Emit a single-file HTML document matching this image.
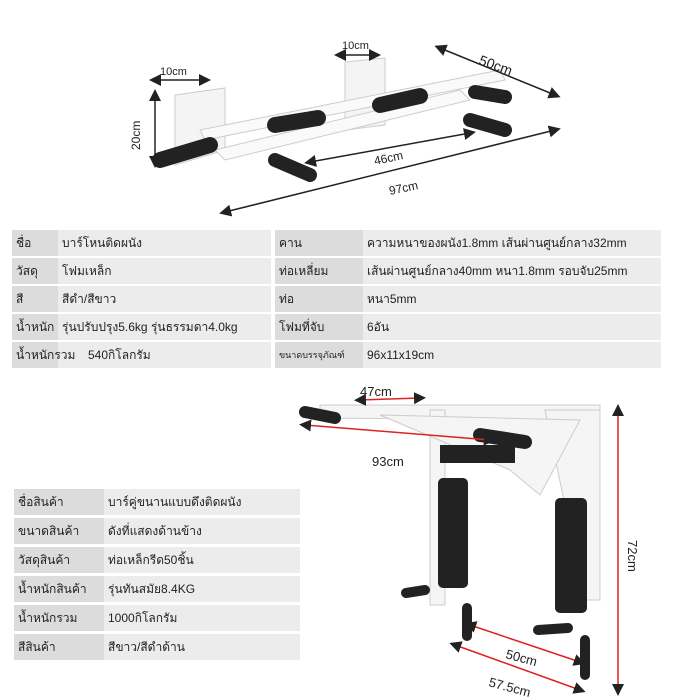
<!DOCTYPE html>
<html><head><meta charset="utf-8"><style>
body{margin:0;width:676px;height:697px;background:#fff;position:relative;overflow:hidden;font-family:"Liberation Sans","Noto Sans CJK SC",sans-serif;}
.t{position:absolute;border-collapse:separate;border-spacing:0 2px;font-size:12px;color:#222;table-layout:fixed}
.t td{height:26px;padding:0 4px;background:#ececec;white-space:nowrap;overflow:visible}
.t td.l{background:#dcdcdc}
svg{position:absolute;left:0;top:0}
</style></head><body>
<svg width="676" height="697" viewBox="0 0 676 697">
<defs><marker id="a" markerWidth="8" markerHeight="8" refX="4" refY="4" orient="auto-start-reverse"><path d="M0,0L8,4L0,8z" fill="#222"/></marker></defs>
<g stroke="#ccc" stroke-width="1">
<polygon points="175,95 225,88 225,150 175,165" fill="#f4f4f4"/>
<polygon points="345,62 385,58 385,125 345,130" fill="#f4f4f4"/>
<polygon points="215,150 460,90 470,100 225,160" fill="#fafafa"/>
<polygon points="200,130 500,70 505,80 205,140" fill="#fafafa"/>
</g>
<g stroke-linecap="round">
<line x1="160" y1="160" x2="210" y2="145" stroke="#222" stroke-width="16"/>
<line x1="275" y1="160" x2="310" y2="175" stroke="#222" stroke-width="14"/>
<line x1="275" y1="125" x2="318" y2="118" stroke="#222" stroke-width="16"/>
<line x1="380" y1="105" x2="420" y2="96" stroke="#222" stroke-width="16"/>
<line x1="470" y1="120" x2="505" y2="130" stroke="#222" stroke-width="14"/>
<line x1="475" y1="92" x2="505" y2="97" stroke="#222" stroke-width="14"/>
</g>
<g stroke="#222" stroke-width="1.5" fill="none">
<line x1="155" y1="95" x2="155" y2="162" marker-start="url(#a)" marker-end="url(#a)"/>
<line x1="155" y1="80" x2="205" y2="80" marker-start="url(#a)" marker-end="url(#a)"/>
<line x1="340" y1="55" x2="375" y2="55" marker-start="url(#a)" marker-end="url(#a)"/>
<line x1="440" y1="48" x2="555" y2="95" marker-start="url(#a)" marker-end="url(#a)"/>
<line x1="310" y1="162" x2="470" y2="133" marker-start="url(#a)" marker-end="url(#a)"/>
<line x1="225" y1="212" x2="555" y2="130" marker-start="url(#a)" marker-end="url(#a)"/>
</g>
<g font-family="Liberation Sans,sans-serif" fill="#222">
<text x="160" y="75" font-size="11">10cm</text>
<text x="342" y="49" font-size="11">10cm</text>
<text x="478" y="64" font-size="14" transform="rotate(20 478 64)">50cm</text>
<text x="140" y="150" font-size="12" transform="rotate(-90 140 150)">20cm</text>
<text x="375" y="165" font-size="12" transform="rotate(-12 375 165)">46cm</text>
<text x="390" y="195" font-size="12" transform="rotate(-12 390 195)">97cm</text>
</g>
<g stroke="#ccc" fill="#f5f5f5">
<polygon points="320,405 600,405 600,420 320,418"/>
<polygon points="430,410 445,410 445,605 430,605"/>
<polygon points="545,410 600,410 600,600 585,600"/>
<polygon points="380,415 580,420 540,495 510,470"/>
</g>
<rect x="438" y="478" width="30" height="110" rx="5" fill="#222"/>
<rect x="555" y="498" width="32" height="115" rx="5" fill="#222"/>
<rect x="440" y="445" width="75" height="18" fill="#222"/>
<g stroke-linecap="round" stroke="#222">
<line x1="305" y1="412" x2="335" y2="418" stroke-width="12"/>
<line x1="480" y1="435" x2="525" y2="442" stroke-width="14"/>
<line x1="406" y1="593" x2="425" y2="590" stroke-width="10"/>
<line x1="538" y1="630" x2="568" y2="628" stroke-width="10"/>
<line x1="467" y1="608" x2="467" y2="636" stroke-width="10"/>
<line x1="585" y1="640" x2="585" y2="675" stroke-width="10"/>
</g>
<g stroke="#d22" stroke-width="1.5" fill="none">
<line x1="360" y1="400" x2="420" y2="398" marker-start="url(#a)" marker-end="url(#a)"/>
<line x1="305" y1="425" x2="490" y2="440" marker-start="url(#a)" marker-end="url(#a)"/>
<line x1="618" y1="410" x2="618" y2="690" marker-start="url(#a)" marker-end="url(#a)"/>
<line x1="470" y1="625" x2="580" y2="662" marker-start="url(#a)" marker-end="url(#a)"/>
<line x1="455" y1="645" x2="580" y2="690" marker-start="url(#a)" marker-end="url(#a)"/>
</g>
<g font-family="Liberation Sans,sans-serif" fill="#222" font-size="13">
<text x="360" y="396">47cm</text>
<text x="372" y="466">93cm</text>
<text x="628" y="540" transform="rotate(90 628 540)">72cm</text>
<text x="505" y="658" transform="rotate(15 505 658)">50cm</text>
<text x="488" y="686" transform="rotate(15 488 686)">57.5cm</text>
</g>
</svg>
<table class="t" style="left:12px;top:228px;width:259px">
<col style="width:46px"><col>
<tr><td class="l">ชื่อ</td><td>บาร์โหนติดผนัง</td></tr>
<tr><td class="l">วัสดุ</td><td>โฟมเหล็ก</td></tr>
<tr><td class="l">สี</td><td>สีดำ/สีขาว</td></tr>
<tr><td class="l">น้ำหนัก</td><td>รุ่นปรับปรุง5.6kg รุ่นธรรมดา4.0kg</td></tr>
<tr><td class="l" style="width:60px">น้ำหนักรวม</td><td style="padding-left:30px">540กิโลกรัม</td></tr>
</table>
<table class="t" style="left:275px;top:228px;width:386px">
<col style="width:88px"><col>
<tr><td class="l">คาน</td><td>ความหนาของผนัง1.8mm เส้นผ่านศูนย์กลาง32mm</td></tr>
<tr><td class="l">ท่อเหลี่ยม</td><td>เส้นผ่านศูนย์กลาง40mm หนา1.8mm รอบจับ25mm</td></tr>
<tr><td class="l">ท่อ</td><td>หนา5mm</td></tr>
<tr><td class="l">โฟมที่จับ</td><td>6อัน</td></tr>
<tr><td class="l" style="font-size:9px">ขนาดบรรจุภัณฑ์</td><td>96x11x19cm</td></tr>
</table>
<table class="t" style="left:14px;top:486px;width:286px;border-spacing:0 3px">
<col style="width:90px"><col>
<tr><td class="l">ชื่อสินค้า</td><td>บาร์คู่ขนานแบบดึงติดผนัง</td></tr>
<tr><td class="l">ขนาดสินค้า</td><td>ดังที่แสดงด้านข้าง</td></tr>
<tr><td class="l">วัสดุสินค้า</td><td>ท่อเหล็กรีด50ชิ้น</td></tr>
<tr><td class="l">น้ำหนักสินค้า</td><td>รุ่นทันสมัย8.4KG</td></tr>
<tr><td class="l">น้ำหนักรวม</td><td>1000กิโลกรัม</td></tr>
<tr><td class="l">สีสินค้า</td><td>สีขาว/สีดำด้าน</td></tr>
</table>
</body></html>
